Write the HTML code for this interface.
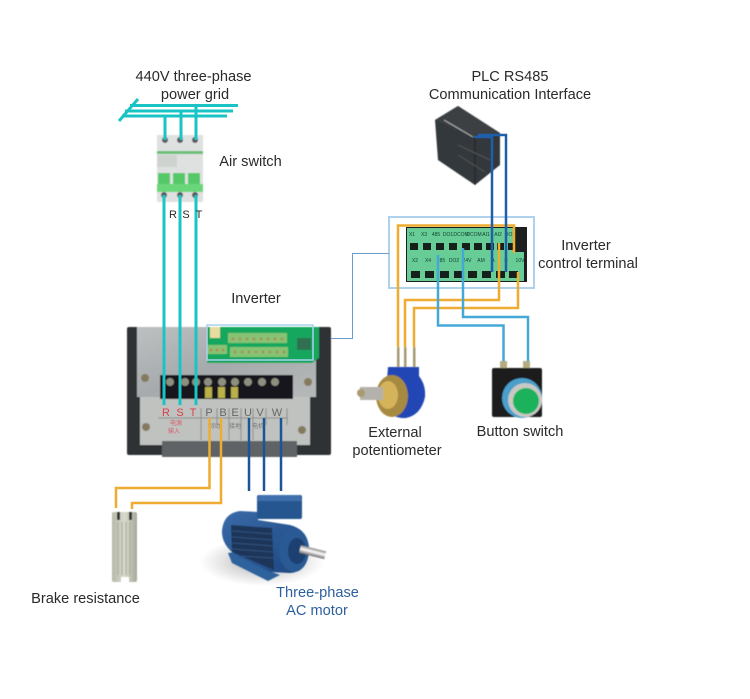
<!DOCTYPE html>
<html><head><meta charset="utf-8"><style>
html,body{margin:0;padding:0;background:#fff}
svg{display:block}
text{font-family:"Liberation Sans","Noto Sans CJK SC",sans-serif;font-size:14.6px;fill:#2a2a2a;text-anchor:middle}
text.t{font-size:5px;fill:#143}
text.c{font-size:11px;fill:#666}
text.r{font-size:11px;fill:#d8404a}
text.z{font-size:6px;fill:#777}
</style></head><body>
<svg width="750" height="699" viewBox="0 0 750 699" xmlns="http://www.w3.org/2000/svg">
<defs>
<filter id="b" x="-5%" y="-5%" width="110%" height="110%"><feGaussianBlur stdDeviation="0.5"/></filter>
<radialGradient id="sh"><stop offset="0" stop-color="#777" stop-opacity=".6"/><stop offset="1" stop-color="#888" stop-opacity="0"/></radialGradient>
<linearGradient id="metal" x1="0" y1="0" x2="1" y2="1"><stop offset="0" stop-color="#bcc0c1"/><stop offset=".5" stop-color="#a6aaac"/><stop offset="1" stop-color="#b6b9b9"/></linearGradient>
<linearGradient id="res" x1="0" x2="1"><stop offset="0" stop-color="#b5b8a9"/><stop offset=".5" stop-color="#d8dacb"/><stop offset="1" stop-color="#a6a999"/></linearGradient>
<linearGradient id="mot" x1="0" y1="0" x2="1" y2="1"><stop offset="0" stop-color="#3a6ba8"/><stop offset="1" stop-color="#1c4580"/></linearGradient>
<linearGradient id="shaft" x1="0" y1="0" x2="0" y2="1"><stop offset="0" stop-color="#888"/><stop offset=".45" stop-color="#fff"/><stop offset="1" stop-color="#666"/></linearGradient>
</defs>

<!-- breaker -->
<g filter="url(#b)">
<rect x="157" y="135" width="46" height="67" fill="#dfe1e0"/>
<rect x="157" y="151" width="46" height="3" fill="#6cc077"/>
<rect x="157" y="155" width="20" height="12" fill="#cfd3d0"/>
<rect x="158" y="173" width="12" height="12" fill="#55c868"/><rect x="173" y="173" width="12" height="12" fill="#55c868"/><rect x="188" y="173" width="12" height="12" fill="#55c868"/>
<rect x="157" y="184" width="46" height="8" fill="#6bd67a"/>
<g fill="#5b5b60"><circle cx="165" cy="140" r="3"/><circle cx="180" cy="140" r="3"/><circle cx="195" cy="140" r="3"/><circle cx="164" cy="195" r="3"/><circle cx="180" cy="195" r="3"/><circle cx="195" cy="195" r="3"/></g>
</g>

<!-- grid -->
<g stroke="#1bc4c4" stroke-width="3" fill="none">
<path d="M119 121L138 99M130 105.500H238M125 111H233M122 116H227"/>
<path d="M165 116V140M181 111V140M196 106V140"/>
</g>

<!-- inverter -->
<g filter="url(#b)">
<rect x="127" y="327" width="204" height="128" rx="2" fill="#2f3235"/>
<rect x="137" y="327" width="179" height="70" fill="url(#metal)"/>
<rect x="140" y="397" width="170" height="48" fill="#c0c2c0"/>
<path d="M207 327H319V358L312 363H207Z" fill="#17a75f"/>
<rect x="210" y="327" width="10" height="11" fill="#e8dca0"/>
<rect x="228" y="333" width="59" height="10" fill="#86c373"/>
<rect x="230" y="347" width="58" height="10" fill="#86c373"/>
<rect x="207" y="345" width="20" height="9" fill="#86c373"/>
<rect x="297" y="338" width="14" height="12" fill="#2f7050"/>
<g fill="#a98f5a"><circle cx="233" cy="339" r="1.500"/><circle cx="240" cy="339" r="1.500"/><circle cx="247" cy="339" r="1.500"/><circle cx="254" cy="339" r="1.500"/><circle cx="261" cy="339" r="1.500"/><circle cx="268" cy="339" r="1.500"/><circle cx="275" cy="339" r="1.500"/><circle cx="282" cy="339" r="1.500"/><circle cx="235" cy="352" r="1.500"/><circle cx="242" cy="352" r="1.500"/><circle cx="249" cy="352" r="1.500"/><circle cx="256" cy="352" r="1.500"/><circle cx="263" cy="352" r="1.500"/><circle cx="270" cy="352" r="1.500"/><circle cx="277" cy="352" r="1.500"/><circle cx="284" cy="352" r="1.500"/><circle cx="211" cy="350" r="1.500"/><circle cx="217" cy="350" r="1.500"/><circle cx="223" cy="350" r="1.500"/></g>
<rect x="160" y="375" width="133" height="24" fill="#15181a"/>
<g fill="#8f8f80"><circle cx="170" cy="382" r="4"/><circle cx="185" cy="382" r="4"/><circle cx="196" cy="382" r="4"/><circle cx="208" cy="382" r="4"/><circle cx="222" cy="382" r="4"/><circle cx="235" cy="382" r="4"/><circle cx="248" cy="382" r="4"/><circle cx="262" cy="382" r="4"/><circle cx="275" cy="382" r="4"/></g>
<g fill="#b9b04a"><rect x="205" y="387" width="7" height="11"/><rect x="218" y="387" width="7" height="11"/><rect x="231" y="387" width="7" height="11"/></g>
<rect x="162" y="441" width="135" height="16" fill="#616366"/>
<g fill="#857a5e"><circle cx="145" cy="378" r="4"/><circle cx="308" cy="382" r="4"/><circle cx="146" cy="427" r="4"/><circle cx="302" cy="430" r="4"/></g>
<path d="M158 418H288M201 408V440M217 408V425M229 408V440M241 408V440M253 408V440M266 408V425M287 408V425" stroke="#8c8c8c" stroke-width="1" fill="none"/>
</g>
<text class="r" x="166" y="416">R</text><text class="r" x="180" y="416">S</text><text class="r" x="193" y="416">T</text><text class="c" x="209" y="416">P</text><text class="c" x="223" y="416">B</text><text class="c" x="235" y="416">E</text><text class="c" x="248" y="416">U</text><text class="c" x="260" y="416">V</text><text class="c" x="277" y="416">W</text>
<text class="z" x="176" y="425" style="fill:#d8606a">电源</text><text class="z" x="174" y="433" style="fill:#d8606a">输入</text>
<text class="z" x="214" y="428">制动</text><text class="z" x="235" y="428">接地</text><text class="z" x="258" y="428">电机</text>

<rect x="207" y="325" width="106" height="35" fill="none" stroke="#a9d2ee" stroke-width="1.500"/>

<!-- cyan to inverter -->
<g stroke="#1bc4c4" stroke-width="3" fill="none"><path d="M164 195V405M180 195V405M196 195V405"/></g>

<!-- PLC -->
<g filter="url(#b)">
<path d="M435 120L458 106L500 133V165L475 185L438 160Z" fill="#33373a"/>
<path d="M435 120L458 106L500 133L475 137Z" fill="#3c4043"/>
<path d="M444 120L473 137" stroke="#b5b5b5" stroke-width="1"/>
<path d="M475 137V185" stroke="#222" stroke-width="1"/>
<path d="M458 145L490 160M458 155L485 172" stroke="#555" stroke-width="1"/>
</g>

<!-- terminal -->
<rect x="406" y="227" width="121" height="55" fill="#1c1f1e"/>
<rect x="407" y="228" width="108" height="24" fill="#68cc96"/>
<rect x="407" y="252" width="117" height="29" fill="#68cc96"/>
<g fill="#15201a">
<rect x="410" y="243" width="8" height="7"/><rect x="423" y="243" width="8" height="7"/><rect x="436" y="243" width="8" height="7"/><rect x="449" y="243" width="8" height="7"/><rect x="462" y="243" width="8" height="7"/><rect x="474" y="243" width="8" height="7"/><rect x="486" y="243" width="8" height="7"/><rect x="497" y="243" width="7" height="7"/><rect x="508" y="243" width="6" height="7"/>
<rect x="411" y="271" width="9" height="7"/><rect x="425" y="271" width="9" height="7"/><rect x="440" y="271" width="9" height="7"/><rect x="454" y="271" width="9" height="7"/><rect x="468" y="271" width="9" height="7"/><rect x="482" y="271" width="9" height="7"/><rect x="496" y="271" width="9" height="7"/><rect x="509" y="271" width="9" height="7"/>
</g>
<text class="t" x="412" y="236">X1</text><text class="t" x="424" y="236">X3</text><text class="t" x="436" y="236">485</text><text class="t" x="448" y="236">DO1</text><text class="t" x="461" y="236">DCOM</text><text class="t" x="474" y="236">DCOM</text><text class="t" x="486" y="236">AI1</text><text class="t" x="498" y="236">AI2</text><text class="t" x="510" y="236">DO1</text>
<text class="t" x="415" y="262">X2</text><text class="t" x="428" y="262">X4</text><text class="t" x="441" y="262">485</text><text class="t" x="454" y="262">DO2</text><text class="t" x="467" y="262">24V</text><text class="t" x="481" y="262">AM</text><text class="t" x="493" y="262">A</text><text class="t" x="506" y="262">B</text><text class="t" x="520" y="262">10V</text>
<rect x="389" y="217" width="145" height="71" fill="none" stroke="#aed2ee" stroke-width="2"/>

<!-- thin link -->
<path d="M331 338.500H352.500V253.500H389" fill="none" stroke="#6f9cc9" stroke-width="1"/>

<!-- orange wires -->
<g stroke="#eeac30" stroke-width="2.500" fill="none">
<path d="M398 347V225.500H514V253"/>
<path d="M499 243V300H405V347"/>
<path d="M518 272V308H414V347"/>
<path d="M209.500 418V488H116V508"/>
<path d="M221 418V503H132V509"/>
</g>
<!-- light blue wires -->
<g stroke="#45a9d8" stroke-width="2.500" fill="none">
<path d="M438 255V325.500H503.500V362"/>
<path d="M463 248V317H528V362"/>
</g>
<!-- dark blue -->
<g stroke="#1f5ea8" stroke-width="2.500" fill="none">
<path d="M474 137H492V272"/>
<path d="M478 135H506V272"/>
</g>
<g stroke="#1b5596" stroke-width="2.500" fill="none"><path d="M249 418V491M264 418V491M281 418V491"/></g>

<!-- potentiometer -->
<g filter="url(#b)">
<rect x="397" y="347" width="2.500" height="20" fill="#a39a72"/><rect x="404" y="347" width="2.500" height="20" fill="#a39a72"/><rect x="413" y="347" width="2.500" height="20" fill="#a39a72"/>
<path d="M388 367H419V376Q426 385 425 397Q421 415 406 418Q390 419 385 405Z" fill="#2046b4"/>
<ellipse cx="392" cy="396" rx="16" ry="21" fill="#a68a40"/>
<ellipse cx="388" cy="395" rx="10" ry="14" fill="#d4b35a"/>
<rect x="360" y="387" width="23" height="13" fill="#b4b2ac"/>
<circle cx="361" cy="393" r="4" fill="#a99a70"/>
</g>

<!-- button -->
<g filter="url(#b)">
<rect x="500" y="361" width="7" height="9" fill="#b5ab80"/><rect x="523" y="361" width="7" height="9" fill="#b5ab80"/>
<rect x="492" y="368" width="50" height="49" rx="2" fill="#1c1c1e"/>
<circle cx="522" cy="398" r="20" fill="#4c9fcb"/>
<circle cx="525" cy="400" r="17" fill="#c8c8c4"/>
<circle cx="526" cy="401" r="13" fill="#1fb25c"/>
</g>

<!-- resistor -->
<g filter="url(#b)">
<rect x="112" y="512" width="25" height="70" rx="2" fill="url(#res)"/>
<rect x="117" y="512" width="3" height="8" fill="#333"/><rect x="129" y="512" width="3" height="8" fill="#333"/>
<rect x="121" y="577" width="8" height="5" fill="#fff"/>
<path d="M118 522V575M122 522V575M126 522V575M130 522V575" stroke="#a8ab9c" stroke-width="1"/>
</g>

<!-- motor -->
<ellipse cx="262" cy="562" rx="62" ry="24" fill="url(#sh)"/>
<g filter="url(#b)">
<path d="M228 553L236 552L272 572L280 575L268 581L232 563Z" fill="#2f629c"/>
<path d="M240 511L258 512V520L290 525Q309 530 309 550Q308 572 290 573L270 572L237 556Q221 545 222 530Q224 513 240 511Z" fill="url(#mot)"/>
<path d="M231 525L272 528L274 570L232 552Z" fill="#1c3558"/>
<path d="M232 531L273 534M232 537L273 540M232 543L273 546M232 549L273 552M240 556L273 558" stroke="#31527f" stroke-width="1"/>
<rect x="257" y="495" width="45" height="24" rx="2" fill="#25578f"/>
<path d="M259 495H300L302 501H257Z" fill="#3f70ad"/>
<ellipse cx="294" cy="550" rx="15" ry="22" fill="#2a5a94"/>
<ellipse cx="297" cy="551" rx="9" ry="13" fill="#1d3f70"/>
<rect x="300" y="545" width="26" height="8" transform="rotate(14 300 549)" fill="url(#shaft)"/>
</g>

<!-- labels -->
<text x="193.500" y="81">440V three-phase</text>
<text x="195" y="99">power grid</text>
<text x="250.500" y="166">Air switch</text>
<text x="173" y="218" style="font-size:11px">R</text><text x="186" y="218" style="font-size:11px">S</text><text x="199" y="218" style="font-size:11px">T</text>
<text x="256" y="303">Inverter</text>
<text x="510" y="81">PLC RS485</text>
<text x="510" y="99">Communication Interface</text>
<text x="586" y="250">Inverter</text>
<text x="588" y="268">control terminal</text>
<text x="395" y="437">External</text>
<text x="397" y="455">potentiometer</text>
<text x="520" y="436">Button switch</text>
<text x="85.500" y="603">Brake resistance</text>
<text x="317.500" y="597" style="fill:#2c5f9e">Three-phase</text>
<text x="317" y="615" style="fill:#2c5f9e">AC motor</text>
</svg>
</body></html>
